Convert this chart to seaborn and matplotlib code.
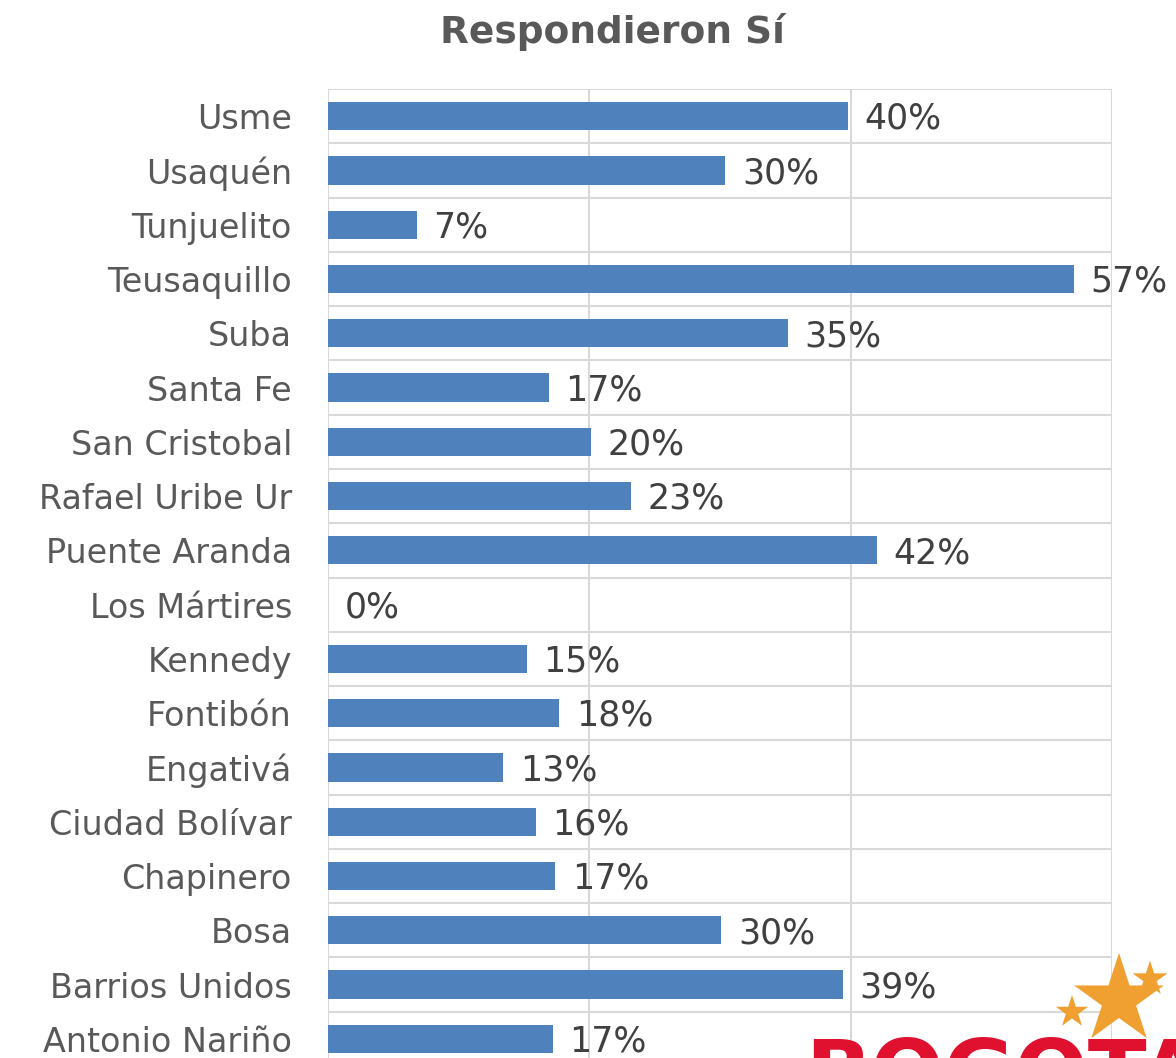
import matplotlib
matplotlib.use('Agg')
import matplotlib.pyplot as plt
import seaborn as sns
import numpy as np

sns.set_theme(style="white")
plt.rcParams['font.family'] = ['DejaVu Sans']

# data (percent of "Sí" answers per locality)
districts = ['Usme', 'Usaquén', 'Tunjuelito', 'Teusaquillo', 'Suba', 'Santa Fe',
             'San Cristobal', 'Rafael Uribe Ur', 'Puente Aranda', 'Los Mártires',
             'Kennedy', 'Fontibón', 'Engativá', 'Ciudad Bolívar', 'Chapinero',
             'Bosa', 'Barrios Unidos', 'Antonio Nariño']
values = [39.8, 30.4, 6.8, 57.1, 35.2, 16.9, 20.1, 23.2, 42.0, 0.0,
          15.2, 17.7, 13.4, 15.9, 17.4, 30.1, 39.4, 17.2]
xticks = [0, 20, 40, 60]

bar_color = '#4F81BD'
grid_color = '#D9D9D9'
text_color = '#404040'

fig = plt.figure(figsize=(11.76, 10.58), dpi=100)
ax = fig.add_axes([328 / 1176, 1 - 1066 / 1058, (1112 - 328) / 1176, 977 / 1058])

sns.barplot(x=values, y=districts, order=districts, color=bar_color,
            width=0.52, saturation=1, linewidth=0, ax=ax)

ax.set_xlim(0, 60)
ax.set_ylim(len(districts) - 0.5, -0.5)
ax.set_xticks(xticks)
ax.set_xticklabels([])
ax.set_yticks(np.arange(-0.5, len(districts), 1), minor=True)
ax.grid(True, axis='x', color=grid_color, linewidth=1.5)
ax.grid(True, axis='y', which='minor', color=grid_color, linewidth=1.5)
ax.grid(False, axis='y', which='major')
ax.set_axisbelow(True)
for s in ax.spines.values():
    s.set_visible(False)
ax.tick_params(axis='y', which='both', length=0, pad=26, labelsize=24,
               labelcolor='#595959')
ax.tick_params(axis='x', length=0)
ax.set_xlabel('')
ax.set_ylabel('')

for i, v in enumerate(values):
    ax.annotate(f'{v:.0f}%', xy=(v, i), xytext=(12, -2), textcoords='offset points',
                ha='left', va='center', fontsize=25, color=text_color)

fig.text(612 / 1176, 1 - 32 / 1058, 'Respondieron Sí', ha='center', va='center',
         fontsize=27, fontweight='bold', color='#595959')

# logo partially visible at bottom right (cut by the image edge, as in the source)
fig.text(805 / 1176, 1 - 1036 / 1058, 'BOGOTA', ha='left', va='top',
         fontsize=62, fontweight='bold', color='#E0102F')
star_x = [1119 / 1176, 1150 / 1176, 1072 / 1176]
star_y = [1 - 1000 / 1058, 1 - 979 / 1058, 1 - 1012 / 1058]
star_s = [4600, 700, 600]
star_ax = fig.add_axes([0, 0, 1, 1], zorder=5)
star_ax.set_xlim(0, 1)
star_ax.set_ylim(0, 1)
star_ax.axis('off')
star_ax.scatter(star_x, star_y, s=star_s, marker='*', color='#EFA030', linewidths=0)

fig.savefig('out.png', dpi=100)
